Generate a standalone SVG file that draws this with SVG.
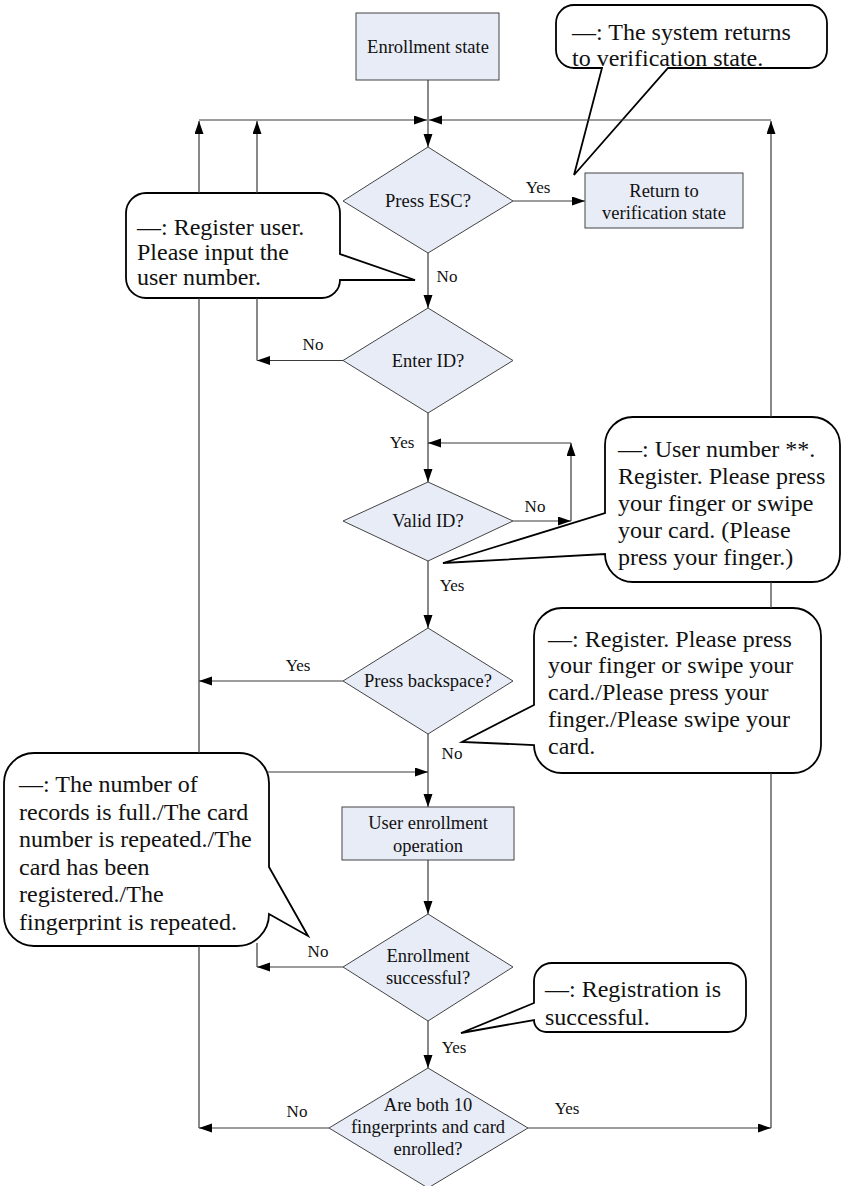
<svg xmlns="http://www.w3.org/2000/svg" width="842" height="1186" viewBox="0 0 842 1186" font-family="Liberation Serif, DejaVu Serif, serif">
<style>
.node{fill:#E8ECF7;stroke:#444;stroke-width:1}
.nt{font-family:'Liberation Serif','DejaVu Serif',serif;font-size:18.5px;text-anchor:middle;fill:#111}
.lb{font-family:'Liberation Serif','DejaVu Serif',serif;font-size:17px;text-anchor:middle;fill:#111}
.co{fill:#fff;stroke:#000;stroke-width:1.8;stroke-linejoin:miter}
.ct{font-family:'Liberation Serif','DejaVu Serif',serif;font-size:24px;fill:#111}
.ln{fill:none;stroke:#3a3a3a;stroke-width:1.2}
.ar{marker-end:url(#ah)}
</style>
<defs>
<marker id="ah" markerUnits="userSpaceOnUse" markerWidth="14" markerHeight="10" refX="13" refY="4.5" orient="auto">
<path d="M0,0 L13,4.5 L0,9 Z" fill="#000"/>
</marker>
</defs>

<g id="callouts">
<g id="callout-return">
<path class="co" d="M574,5 H809 A18,18 0 0 1 827,23 V50 A18,18 0 0 1 809,68 H668 L574,175 L602,68 H574 A18,18 0 0 1 556,50 V23 A18,18 0 0 1 574,5 Z"/>
<text class="ct" x="572" y="40">—: The system returns</text>
<text class="ct" x="572" y="66">to verification state.</text>
</g>
<g id="callout-register-user">
<path class="co" d="M146,193 H320 A20,20 0 0 1 340,213 V254 L415,280 L340,280 A18,18 0 0 1 322,298 H146 A20,20 0 0 1 126,278 V213 A20,20 0 0 1 146,193 Z"/>
<text class="ct" x="137" y="235">—: Register user.</text>
<text class="ct" x="137" y="260">Please input the</text>
<text class="ct" x="137" y="285">user number.</text>
</g>
<g id="callout-user-number">
<path class="co" d="M633,417 H812 A28,28 0 0 1 840,445 V554 A28,28 0 0 1 812,582 H633 A28,28 0 0 1 605,554 L443,563 L605,513 V445 A28,28 0 0 1 633,417 Z"/>
<text class="ct" x="618" y="457">—: User number **.</text>
<text class="ct" x="618" y="484">Register. Please press</text>
<text class="ct" x="618" y="511">your finger or swipe</text>
<text class="ct" x="618" y="538">your card. (Please</text>
<text class="ct" x="618" y="565">press your finger.)</text>
</g>
<g id="callout-register">
<path class="co" d="M562,608 H793 A28,28 0 0 1 821,636 V745 A28,28 0 0 1 793,773 H562 A28,28 0 0 1 534,745 L462,742 L534,705 V636 A28,28 0 0 1 562,608 Z"/>
<text class="ct" x="548" y="647">—: Register. Please press</text>
<text class="ct" x="548" y="673">your finger or swipe your</text>
<text class="ct" x="548" y="700">card./Please press your</text>
<text class="ct" x="548" y="727">finger./Please swipe your</text>
<text class="ct" x="548" y="754">card.</text>
</g>
<g id="callout-errors">
<path class="co" d="M34,753 H239 A30,30 0 0 1 269,783 V867 L308,936 L269,914 A32,32 0 0 1 237,946 H34 A30,30 0 0 1 4,916 V783 A30,30 0 0 1 34,753 Z"/>
<text class="ct" x="19" y="792">—: The number of</text>
<text class="ct" x="19" y="820">records is full./The card</text>
<text class="ct" x="19" y="847">number is repeated./The</text>
<text class="ct" x="19" y="875">card has been</text>
<text class="ct" x="19" y="902">registered./The</text>
<text class="ct" x="19" y="930">fingerprint is repeated.</text>
</g>
<g id="callout-success">
<path class="co" d="M552,963 H728 A18,18 0 0 1 746,981 V1014 A18,18 0 0 1 728,1032 H546 A12,12 0 0 1 534,1020 L461,1033 L534,1003 V981 A18,18 0 0 1 552,963 Z"/>
<text class="ct" x="545" y="997">—: Registration is</text>
<text class="ct" x="545" y="1025">successful.</text>
</g>
</g>

<g id="connectors">
<line class="ln ar" x1="428" y1="80" x2="428" y2="147"/>
<line class="ln ar" x1="199" y1="120" x2="427" y2="120"/>
<line class="ln ar" x1="771" y1="120" x2="429" y2="120"/>
<line class="ln ar" x1="513" y1="201" x2="585" y2="201"/>
<line class="ln ar" x1="428" y1="253" x2="428" y2="308"/>
<line class="ln ar" x1="343" y1="360.5" x2="257" y2="360.5"/>
<line class="ln" x1="257" y1="360.5" x2="257" y2="298"/>
<line class="ln ar" x1="257" y1="193" x2="257" y2="121"/>
<line class="ln ar" x1="428" y1="413" x2="428" y2="482"/>
<line class="ln ar" x1="513" y1="521" x2="571" y2="521"/>
<line class="ln ar" x1="571" y1="521" x2="571" y2="443"/>
<line class="ln ar" x1="571" y1="443" x2="428" y2="443"/>
<line class="ln ar" x1="428" y1="561" x2="428" y2="628"/>
<line class="ln ar" x1="343" y1="681" x2="199" y2="681"/>
<line class="ln ar" x1="428" y1="734" x2="428" y2="807"/>
<line class="ln ar" x1="267" y1="772" x2="428" y2="772"/>
<line class="ln ar" x1="428" y1="860" x2="428" y2="914"/>
<line class="ln ar" x1="343" y1="967" x2="257" y2="967"/>
<line class="ln" x1="257" y1="967" x2="257" y2="943"/>
<line class="ln ar" x1="428" y1="1021" x2="428" y2="1068"/>
<line class="ln ar" x1="329" y1="1128" x2="199" y2="1128"/>
<line class="ln" x1="199" y1="1128" x2="199" y2="946"/>
<line class="ln" x1="199" y1="753" x2="199" y2="298"/>
<line class="ln ar" x1="199" y1="193" x2="199" y2="121"/>
<line class="ln ar" x1="528" y1="1128" x2="771" y2="1128"/>
<line class="ln" x1="771" y1="1128" x2="771" y2="773"/>
<line class="ln" x1="771" y1="608" x2="771" y2="582"/>
<line class="ln ar" x1="771" y1="417" x2="771" y2="121"/>
<text class="lb" x="538" y="193">Yes</text>
<text class="lb" x="447" y="282">No</text>
<text class="lb" x="313" y="350">No</text>
<text class="lb" x="402" y="448">Yes</text>
<text class="lb" x="535" y="512">No</text>
<text class="lb" x="452" y="591">Yes</text>
<text class="lb" x="298" y="671">Yes</text>
<text class="lb" x="452" y="759">No</text>
<text class="lb" x="318" y="957">No</text>
<text class="lb" x="454" y="1053">Yes</text>
<text class="lb" x="297" y="1117">No</text>
<text class="lb" x="567" y="1114">Yes</text>
</g>

<g id="enrollment-state">
<rect class="node" x="356" y="13" width="143" height="67"/>
<text class="nt" x="428" y="53">Enrollment state</text>
</g>
<g id="press-esc">
<polygon class="node" points="428,147 513,201 428,253 343,201"/>
<text class="nt" x="428" y="207">Press ESC?</text>
</g>
<g id="return-verification">
<rect class="node" x="585" y="173" width="158" height="55"/>
<text class="nt" x="664" y="197">Return to</text>
<text class="nt" x="664" y="219">verification state</text>
</g>
<g id="enter-id">
<polygon class="node" points="428,308 513,360.5 428,413 343,360.5"/>
<text class="nt" x="428" y="367">Enter ID?</text>
</g>
<g id="valid-id">
<polygon class="node" points="428,482 513,521 428,561 343,521"/>
<text class="nt" x="428" y="527">Valid ID?</text>
</g>
<g id="press-backspace">
<polygon class="node" points="428,628 513,681 428,734 343,681"/>
<text class="nt" x="428" y="687">Press backspace?</text>
</g>
<g id="user-enrollment">
<rect class="node" x="342" y="807" width="172" height="53"/>
<text class="nt" x="428" y="829">User enrollment</text>
<text class="nt" x="428" y="852">operation</text>
</g>
<g id="enrollment-successful">
<polygon class="node" points="428,914 513,967 428,1021 343,967"/>
<text class="nt" x="428" y="962">Enrollment</text>
<text class="nt" x="428" y="984">successful?</text>
</g>
<g id="both-enrolled">
<polygon class="node" points="428,1068 528,1128 428,1188 329,1128"/>
<text class="nt" x="428" y="1111">Are both 10</text>
<text class="nt" x="428" y="1133">fingerprints and card</text>
<text class="nt" x="428" y="1155">enrolled?</text>
</g>
</svg>
